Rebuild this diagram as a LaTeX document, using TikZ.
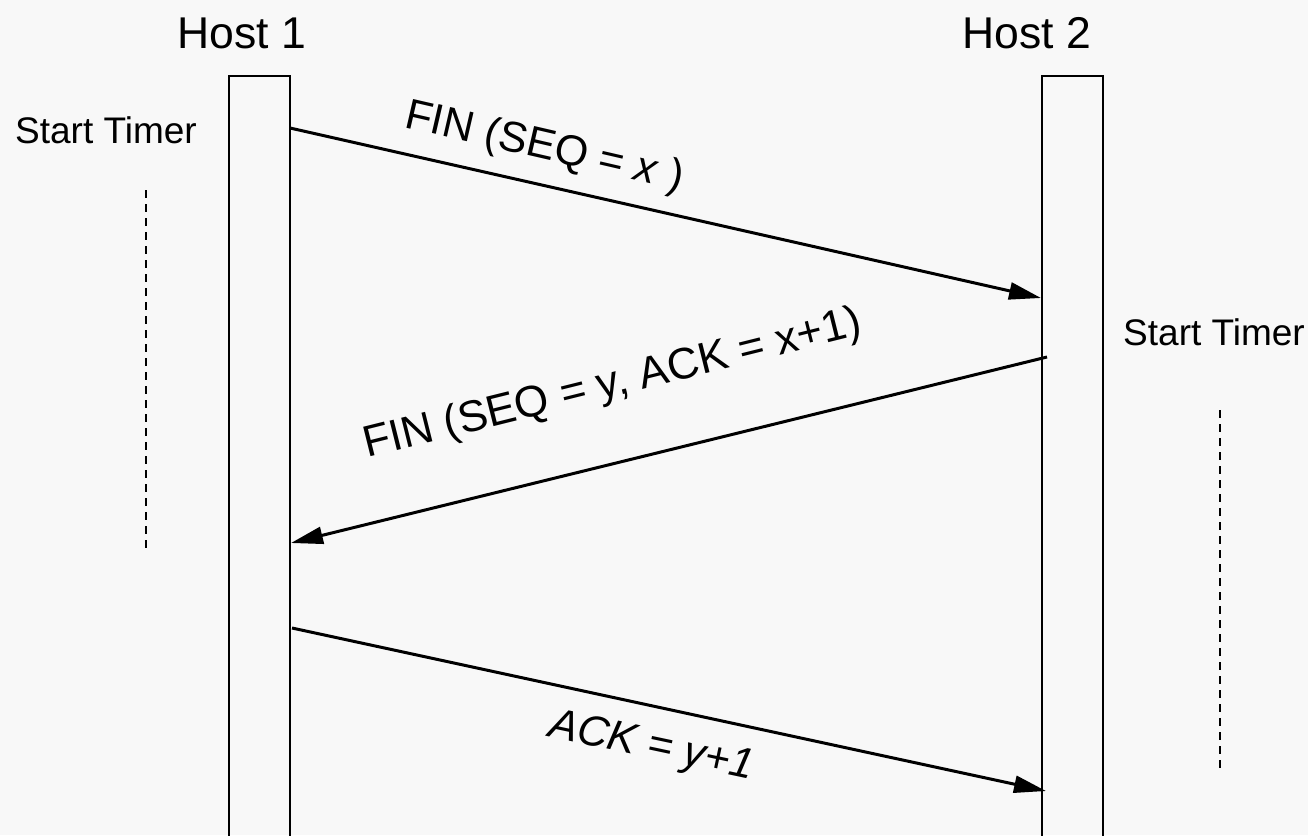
\documentclass[tikz,border=0pt]{standalone}
\usepackage{fontspec}
\setmainfont{Liberation Sans}
\usetikzlibrary{arrows.meta}
\definecolor{bgc}{HTML}{F8F8F8}
\begin{document}
\begin{tikzpicture}[x=1pt,y=-1pt,
  msg/.style={line width=3pt, -{Triangle[length=32pt,width=17pt]}},
  lifeline/.style={draw, line width=2pt, rectangle, minimum width=61pt, minimum height=820pt, inner sep=0pt, anchor=north},
  timer/.style={line width=2pt, dash pattern=on 8pt off 6pt},
  lbl/.style={font=\fontsize{43}{50}\selectfont, inner sep=0pt, anchor=base west},
  host/.style={font=\fontsize{44.5}{52}\selectfont, inner sep=0pt, anchor=base west},
  st/.style={font=\fontsize{37}{42}\selectfont, inner sep=0pt, anchor=base west}]
\fill[bgc] (0,0) rectangle (1308,835);
\useasboundingbox (0,0) rectangle (1308,835);
\clip (0,0) rectangle (1308,835);
% hosts
\node[host] (t1) at (177,48) {Host 1};
\node[host] (t2) at (962,48) {Host 2};
\node[lifeline] (h1) at (259.5,75) {};
\node[lifeline] (h2) at (1072.5,75) {};
% timers
\node[st] (s1) at (15,143) {Start Timer};
\node[st] (s2) at (1123,345) {Start Timer};
\coordinate (d1a) at (146,190);
\coordinate (d1b) at (146,548);
\coordinate (d2a) at (1220,410);
\coordinate (d2b) at (1220,768);
\draw[timer] (d1a) -- (d1b);
\draw[timer] (d2a) -- (d2b);
% messages
\coordinate (m1s) at (290,128);
\coordinate (m1e) at (1041,298);
\coordinate (m2s) at (1047,357);
\coordinate (m2e) at (291,543);
\coordinate (m3s) at (292,628);
\coordinate (m3e) at (1046,791);
\draw[msg] (m1s) -- (m1e);
\draw[msg] (m2s) -- (m2e);
\draw[msg] (m3s) -- (m3e);
% labels
\node[lbl, rotate=-13] (l1) at (403,127) {FIN (SEQ = \textit{x} )};
\node[lbl, font=\fontsize{44}{50}\selectfont, rotate=14] (l2) at (367,458) {FIN (SEQ = y, ACK = x+1)};
\node[lbl, rotate=-12] (l3) at (547,736) {\textit{ACK = y+1}};
\end{tikzpicture}
\end{document}
